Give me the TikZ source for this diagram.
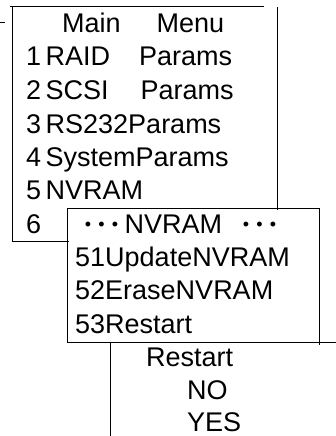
\documentclass[tikz,border=0pt]{standalone}
\usepackage{fontspec}
\setmainfont{Liberation Sans}
\usetikzlibrary{positioning}
\tikzset{
 menutext/.style={anchor=base west,inner sep=0pt,font=\fontsize{27}{32}\selectfont},
 frame/.style={line width=1pt,line cap=rect}
}
\newcommand{\tridots}{{\fontsize{18}{18}\selectfont\raisebox{2.5pt}{%
  \makebox[13.5pt]{\textbullet}\makebox[13.5pt]{\textbullet}\makebox[13.5pt]{\textbullet}}}}

\begin{document}
\begin{tikzpicture}[x=1pt,y=-1pt]
\useasboundingbox (0,0) rectangle (336,436);
% main menu
\node[menutext] (mainhead) at (62,33) {Main\hspace{36pt}Menu};
\node[menutext] (raid) at (26,66) {1\,\makebox[93.5pt][l]{RAID}Params};
\node[menutext] (scsi) at (26,99) {2\,\makebox[95pt][l]{SCSI}Params};
\node[menutext] (rs) at (26,133) {3\,RS232Params};
\node[menutext] (sys) at (26,166) {4\,SystemParams};
\node[menutext] (nvram) at (26,199) {5\,NVRAM};
\node[menutext] (six) at (26,233) {6};
% NVRAM sub menu
\node[menutext] (subhead) at (81,233) {\tridots\hspace{3pt}NVRAM\hspace{17pt}\tridots};
\node[menutext] (update) at (75,266) {51UpdateNVRAM};
\node[menutext] (erase) at (75,299) {52EraseNVRAM};
\node[menutext] (restart) at (75,333) {53Restart};
% restart
\node[menutext] (rhead) at (146,366) {Restart};
\node[menutext] (no) at (187,399) {NO};
\node[menutext] (yes) at (187,431) {YES};
% frames
\draw[frame] (0,23) -- (4,23);
\draw[frame] (10,7) -- (263,7);
\draw[frame] (12,7) -- (12,241) -- (68,241);
\draw[frame] (277,8) -- (277,209);
\draw[frame] (67,208) -- (319,208) -- (319,344);
\draw[frame] (67,208) -- (67,342) -- (336,342);
\draw[frame] (110,342) -- (110,436);
\end{tikzpicture}
\end{document}
